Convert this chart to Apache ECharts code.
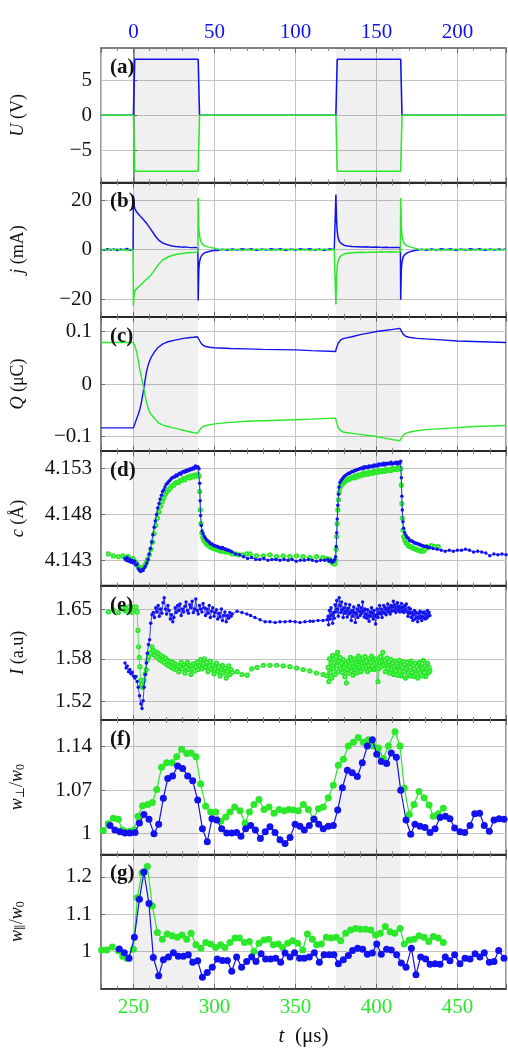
<!DOCTYPE html>
<html>
<head>
<meta charset="utf-8">
<script src="https://cdn.jsdelivr.net/npm/echarts@6/dist/echarts.min.js"></script>
<style>
html, body { margin: 0; padding: 0; background: #fff; }
#chart { width: 508px; height: 1058px; }
</style>
</head>
<body>
<div id="chart"></div>
<script>
// pulse windows (shaded), in t (us)
const pulses = [[250, 290], [375, 415]];

// (a) applied voltage U (V)
const tU = [230, 250, 250.8, 290, 290.8, 375, 375.8, 415, 415.8, 480];
const uBlue = [0, 0, 8, 8, 0, 0, 8, 8, 0, 0];
const uGreen = [0, 0, -8, -8, 0, 0, -8, -8, 0, 0];

// (b) current j (mA)
const tJ = [230, 232, 234, 236, 238, 240, 242, 244, 246, 248, 249.8,
  250, 250.5, 251, 252, 253, 254, 255, 256, 257, 258, 259, 260, 261, 262, 263, 264, 265, 266, 267, 268, 269, 270,
  272, 274, 276, 278, 280, 282, 284, 286, 288, 289.8,
  290, 290.4, 290.8, 291.5, 292.5, 294, 296, 298, 300, 302,
  305, 308, 311, 314, 317, 320, 323, 326, 329, 332, 335, 338, 341, 344, 347, 350, 353, 356, 359, 362, 365, 368, 371, 374, 374.8,
  375, 375.4, 375.8, 376.3, 377, 378, 379, 380, 382, 385, 388, 391, 394, 397, 400, 403, 406, 409, 412, 414.8,
  415, 415.4, 415.8, 416.5, 417.5, 419, 421, 423, 425,
  428, 431, 434, 437, 440, 443, 446, 449, 452, 455, 458, 461, 464, 467, 470, 473, 476, 478, 480];
const jBlue = [0.2, -0.3, 0.4, -0.2, 0.3, -0.4, 0.2, -0.1, 0.5, -0.3, 0.1,
  21.8, 17.5, 16.5, 15.2, 14.5, 13.7, 13.0, 12.3, 11.6, 10.8, 9.8, 8.9, 8.0, 7.0, 6.0, 5.1, 4.3, 3.6, 3.0, 2.7, 2.4, 2.2,
  1.8, 1.5, 1.3, 1.2, 1.0, 1.1, 0.9, 0.8, 0.9, 0.7,
  -20.6, -8, -5, -3.2, -2.0, -1.3, -0.9, -0.6, -0.3, -0.4,
  0.2, -0.3, 0.3, -0.2, 0.4, -0.1, 0.3, -0.3, 0.2, -0.2, 0.4, -0.1, 0.3, -0.3, 0.2, -0.2, 0.3, -0.1, 0.4, -0.2, 0.2, -0.3, 0.3, -0.1, 0.1,
  22.3, 12, 7.5, 5.0, 3.5, 2.6, 2.1, 1.8, 1.5, 1.3, 1.2, 1.1, 1.2, 1.0, 1.1, 0.9, 1.0, 0.8, 0.9, 0.8,
  -20.3, -8, -5, -3, -2, -1.3, -0.8, -0.5, -0.3,
  0.2, -0.3, 0.3, -0.2, 0.4, -0.1, 0.3, -0.3, 0.2, -0.2, 0.4, -0.1, 0.3, -0.3, 0.2, -0.2, 0.3, -0.1, 0.2];
const jGreen = [-0.3, 0.2, -0.4, 0.3, -0.2, 0.4, -0.3, 0.1, -0.4, 0.2, -0.2,
  -22.6, -18, -16.5, -15.8, -15.2, -14.5, -14.0, -13.3, -12.6, -12.0, -11.5, -11.0, -10.2, -9.3, -8.3, -7.4, -6.5, -5.6, -4.9, -4.3, -3.9, -3.5,
  -2.8, -2.4, -2.0, -1.8, -1.6, -1.4, -1.3, -1.2, -1.1, -1.0,
  21.0, 9, 5.5, 3.5, 2.3, 1.5, 1.1, 0.8, 0.6, 0.3,
  -0.2, 0.3, -0.3, 0.2, -0.4, 0.1, -0.3, 0.3, -0.2, 0.2, -0.4, 0.1, -0.3, 0.3, -0.2, 0.2, -0.3, 0.1, -0.4, 0.2, -0.2, 0.3, -0.3, 0.1, -0.1,
  -22.2, -11, -7, -4.8, -3.5, -2.6, -2.1, -1.8, -1.5, -1.3, -1.2, -1.1, -1.2, -1.0, -1.1, -0.9, -1.0, -0.9, -1.0, -0.9,
  20.9, 9, 5.5, 3.3, 2.2, 1.5, 1.0, 0.7, 0.4,
  -0.2, 0.3, -0.3, 0.2, -0.4, 0.1, -0.3, 0.3, -0.2, 0.2, -0.4, 0.1, -0.3, 0.3, -0.2, 0.2, -0.3, 0.1, -0.2];

// (c) charge Q (uC)
const tQBlue = [230, 250, 251, 252, 253, 254, 255, 256, 257, 258, 259, 260, 261, 262, 263, 264, 265, 266,
  268, 270, 272, 275, 278, 281, 284, 287, 289.5, 290.5, 291.5, 292.5, 294, 297, 300,
  310, 320, 330, 340, 350, 360, 374.8, 375.5, 376.5, 378, 380, 385, 390, 395, 400, 405, 410, 414.5,
  415.5, 416.5, 418, 420, 425, 430, 440, 450, 460, 470, 480];
const qBlue = [-0.0835, -0.0835, -0.075, -0.066, -0.058, -0.048, -0.034, -0.016, 0.003, 0.022, 0.035, 0.044, 0.051, 0.056, 0.061, 0.065, 0.069, 0.072,
  0.076, 0.079, 0.081, 0.083, 0.085, 0.087, 0.088, 0.089, 0.090, 0.088, 0.079, 0.075, 0.072, 0.070, 0.069,
  0.0675, 0.067, 0.066, 0.0655, 0.065, 0.0635, 0.062, 0.070, 0.078, 0.084, 0.087, 0.090, 0.094, 0.097, 0.100, 0.102, 0.104, 0.106,
  0.104, 0.095, 0.091, 0.089, 0.087, 0.086, 0.084, 0.082, 0.081, 0.080, 0.079];
const tQGreen = [230, 250, 251, 252, 253, 254, 255, 256, 257, 258, 259, 260, 261, 262,
  264, 266, 268, 270, 274, 278, 282, 286, 289.5, 290.5, 291.5, 293, 295, 300,
  310, 320, 330, 340, 350, 360, 374.8, 375.5, 376.5, 378, 380, 385, 390, 395, 400, 405, 410, 414.5,
  415.5, 416.5, 418, 420, 425, 430, 440, 450, 460, 470, 480];
const qGreen = [0.079, 0.079, 0.072, 0.061, 0.045, 0.027, 0.012, -0.002, -0.018, -0.034, -0.045, -0.053, -0.058, -0.062,
  -0.069, -0.075, -0.078, -0.080, -0.083, -0.086, -0.089, -0.092, -0.094, -0.092, -0.085, -0.081, -0.079, -0.076,
  -0.073, -0.071, -0.070, -0.069, -0.068, -0.067, -0.065, -0.074, -0.084, -0.089, -0.092, -0.094, -0.096, -0.098, -0.100, -0.103, -0.106, -0.108,
  -0.106, -0.098, -0.094, -0.092, -0.089, -0.087, -0.085, -0.083, -0.081, -0.080, -0.079];

// (d) lattice parameter c (Å), [t, c]
const cBlue = [[244.8,4.1432],[245.5,4.1430],[246.2,4.1433],[247,4.1429],[247.8,4.1431],[248.5,4.1428],[249.3,4.1430],[250,4.1427],
  [250.8,4.1429],[251.5,4.1425],[252.3,4.1426],[253,4.1421],[253.8,4.1419],[254.5,4.1418],[255.3,4.1420],[256,4.1419],[256.8,4.1422],
  [257.5,4.1424],[258.3,4.1427],[259,4.1431],[259.8,4.1437],[260.5,4.1443],[261.3,4.1450],[262,4.1458],[262.8,4.1466],[263.5,4.1473],
  [264.3,4.1480],[265,4.1487],[265.8,4.1492],[266.5,4.1497],[267.3,4.1501],[268,4.1505],[268.8,4.1507],[269.5,4.1510],[270.3,4.1513],
  [271,4.1514],[271.8,4.1516],[272.5,4.1517],[273.3,4.1519],[274,4.1520],[274.8,4.1521],[275.5,4.1521],[276.3,4.1523],[277,4.1522],
  [277.8,4.1524],[278.5,4.1525],[279.3,4.1524],[280,4.1526],[280.8,4.1527],[281.5,4.1526],[282.3,4.1528],[283,4.1527],[283.8,4.1529],
  [284.5,4.1528],[285.3,4.1530],[286,4.1529],[286.8,4.1531],[287.5,4.1530],[288.3,4.1533],[289,4.1531],[289.8,4.1532],[290.5,4.1530],
  [290.9,4.1514],[291.2,4.1495],[291.5,4.1479],[291.9,4.1468],[292.4,4.1462],[293,4.1459],[293.8,4.1456],[294.5,4.1454],[295.3,4.1452],
  [296,4.1451],[296.8,4.1450],[297.5,4.1448],[298.3,4.1448],[299,4.1447],[299.8,4.1446],[300.5,4.1446],[301.3,4.1445],[302,4.1445],
  [302.8,4.1444],[303.5,4.1444],[304.3,4.1443],[305,4.1444],[305.8,4.1443],[306.5,4.1442],[307.3,4.1442],[308,4.1441],[309,4.1441],
  [310,4.1440],[311,4.1439],[313,4.1437],[315.5,4.1436],[318,4.1434],[320.5,4.1432],[323,4.1433],[325.5,4.1431],[328,4.1431],
  [330.5,4.1432],[333,4.1430],[335.5,4.1431],[338,4.1431],[340.5,4.1430],[343,4.1431],[345.5,4.1430],[348,4.1431],[350.5,4.1429],
  [353,4.1430],[355.5,4.1430],[358,4.1431],[360.5,4.1430],[363,4.1429],[365.5,4.1430],[368,4.1430],[370,4.1431],[371,4.1429],
  [372,4.1430],[372.8,4.1428],[373.5,4.1429],[374.3,4.1431],[374.8,4.1434],[375.2,4.1445],[375.5,4.1460],[375.8,4.1475],[376.2,4.1490],
  [376.6,4.1502],[377,4.1510],[377.5,4.1515],[378.2,4.1517],[379,4.1519],[379.8,4.1521],[380.5,4.1522],[381.3,4.1523],[382,4.1524],
  [382.8,4.1525],[383.5,4.1525],[384.3,4.1526],[385,4.1527],[385.8,4.1527],[386.5,4.1528],[387.3,4.1528],[388,4.1529],[388.8,4.1529],
  [389.5,4.1530],[390.3,4.1530],[391,4.1531],[391.8,4.1530],[392.5,4.1532],[393.3,4.1531],[394,4.1532],[394.8,4.1531],[395.5,4.1533],
  [396.3,4.1532],[397,4.1533],[397.8,4.1532],[398.5,4.1534],[399.3,4.1533],[400,4.1534],[400.8,4.1533],[401.5,4.1535],[402.3,4.1534],
  [403,4.1535],[403.8,4.1534],[404.5,4.1536],[405.3,4.1534],[406,4.1536],[406.8,4.1535],[407.5,4.1536],[408.3,4.1535],[409,4.1537],
  [409.8,4.1535],[410.5,4.1536],[411.3,4.1536],[412,4.1537],[412.8,4.1535],[413.5,4.1537],[414.3,4.1536],[415,4.1538],[415.4,4.1520],
  [415.7,4.1500],[416,4.1485],[416.4,4.1472],[416.8,4.1465],[417.5,4.1460],[418.3,4.1457],[419,4.1455],[419.8,4.1454],[420.5,4.1452],
  [421.3,4.1451],[422,4.1451],[422.8,4.1450],[423.5,4.1449],[424.3,4.1449],[425,4.1448],[425.8,4.1448],[426.5,4.1447],[427.3,4.1447],
  [428,4.1446],[428.8,4.1446],[429.5,4.1445],[430.3,4.1445],[431,4.1445],[432,4.1444],[433,4.1444],[435,4.1443],[437.5,4.1442],
  [440,4.1441],[442.5,4.1440],[445,4.1441],[447.5,4.1440],[450,4.1441],[452.5,4.1441],[455,4.1442],[457.5,4.1441],[460,4.1439],
  [462.5,4.1440],[465,4.1439],[467.5,4.1438],[470,4.1435],[472.5,4.1437],[475,4.1436],[477.5,4.1437],[480,4.1436]];
const cGreen = [[234.5,4.1437],[237.6,4.1435],[240.7,4.1434],[243.5,4.1435],[244.8,4.1433],[245.8,4.1432],[246.8,4.1434],[247.8,4.1431],
  [248.8,4.1430],[249.8,4.1432],[250.8,4.1429],[251.8,4.1427],[252.8,4.1424],[253.8,4.1422],[254.8,4.1421],[255.8,4.1422],[256.8,4.1424],
  [257.8,4.1427],[258.8,4.1431],[259.8,4.1436],[260.8,4.1442],[261.8,4.1450],[262.8,4.1459],[263.8,4.1468],[264.8,4.1476],[265.8,4.1483],
  [266.8,4.1489],[267.8,4.1494],[268.8,4.1498],[269.8,4.1502],[270.8,4.1505],[271.8,4.1507],[272.8,4.1509],[273.8,4.1511],[274.8,4.1512],
  [275.8,4.1514],[276.8,4.1515],[277.8,4.1515],[278.8,4.1517],[279.8,4.1517],[280.8,4.1519],[281.8,4.1518],[282.8,4.1520],[283.8,4.1521],
  [284.8,4.1520],[285.8,4.1522],[286.8,4.1521],[287.8,4.1523],[288.8,4.1522],[289.8,4.1524],[290.5,4.1522],[290.9,4.1505],[291.3,4.1485],
  [291.7,4.1470],[292.2,4.1460],[292.8,4.1455],[293.5,4.1452],[294.3,4.1450],[295,4.1448],[295.8,4.1447],[296.5,4.1446],[297.3,4.1445],
  [298,4.1444],[298.8,4.1444],[299.5,4.1443],[300.3,4.1443],[301,4.1442],[301.8,4.1442],[302.5,4.1441],[303.3,4.1441],[304,4.1440],
  [305,4.1441],[306,4.1440],[307,4.1439],[308,4.1440],[309,4.1439],[310,4.1438],[311,4.1437],[313,4.1437],[315,4.1436],[317.5,4.1436],
  [320,4.1437],[322,4.1437],[326,4.1435],[330.2,4.1435],[334.3,4.1436],[338.4,4.1434],[342.5,4.1435],[346.6,4.1434],[350.7,4.1435],
  [354.8,4.1434],[358.9,4.1433],[363,4.1434],[367,4.1433],[369.5,4.1432],[370.5,4.1430],[371.3,4.1431],[372,4.1429],[372.8,4.1427],
  [373.5,4.1428],[374.3,4.1426],[374.8,4.1430],[375.2,4.1442],[375.5,4.1456],[375.8,4.1470],[376.2,4.1485],[376.6,4.1496],[377,4.1504],
  [377.5,4.1509],[378.2,4.1512],[379,4.1513],[379.8,4.1515],[380.5,4.1516],[381.3,4.1517],[382,4.1518],[382.8,4.1518],[383.5,4.1519],
  [384.3,4.1520],[385,4.1520],[385.8,4.1521],[386.5,4.1520],[387.3,4.1522],[388,4.1521],[388.8,4.1523],[389.5,4.1522],[390.3,4.1523],
  [391,4.1524],[391.8,4.1523],[392.5,4.1525],[393.3,4.1524],[394,4.1525],[394.8,4.1524],[395.5,4.1526],[396.3,4.1525],[397,4.1526],
  [397.8,4.1525],[398.5,4.1527],[399.3,4.1526],[400,4.1527],[401,4.1526],[402,4.1528],[403,4.1527],[404,4.1528],[405,4.1527],
  [406,4.1529],[407,4.1528],[408,4.1529],[409,4.1528],[410,4.1530],[411,4.1529],[412,4.1530],[413,4.1529],[414,4.1531],[415,4.1530],
  [415.4,4.1512],[415.7,4.1492],[416,4.1476],[416.4,4.1463],[416.8,4.1456],[417.5,4.1452],[418.3,4.1449],[419,4.1448],[419.8,4.1446],
  [420.5,4.1445],[421.3,4.1445],[422,4.1444],[422.8,4.1443],[423.5,4.1443],[424.3,4.1442],[425,4.1442],[425.8,4.1441],[426.5,4.1441],
  [427.3,4.1440],[428,4.1441],[429,4.1440],[430,4.1442],[431,4.1445],[432,4.1444],[434,4.1446],[436,4.1445],[438.2,4.1445]];

// (e) intensity I (a.u), [t, I]
const iBlue = [[244.8,1.574],[245.5,1.567],[246.2,1.570],[247,1.562],[247.8,1.565],[248.5,1.559],[249.3,1.561],[250,1.556],[250.8,1.553],
  [251.6,1.555],[252.3,1.548],[253,1.540],[253.8,1.528],[254.6,1.517],[255.3,1.510],[256,1.521],[256.6,1.540],[257.3,1.558],[258,1.574],
  [258.6,1.588],[259.3,1.600],[260,1.607],[260.7,1.630],[261.5,1.642],[262.3,1.645],[263,1.638],[263.8,1.652],[264.5,1.646],[265.3,1.655],
  [266,1.640],[266.8,1.650],[267.5,1.644],[268.3,1.659],[269,1.666],[269.8,1.650],[270.5,1.643],[271.3,1.655],[272,1.648],[272.8,1.636],
  [273.5,1.642],[274.3,1.632],[275,1.638],[275.8,1.652],[276.5,1.645],[277.3,1.655],[278,1.648],[278.8,1.657],[279.5,1.641],[280.3,1.650],
  [281,1.646],[281.8,1.654],[282.5,1.660],[283.3,1.648],[284,1.644],[284.8,1.656],[285.5,1.652],[286.3,1.661],[287,1.645],[287.8,1.650],
  [288.5,1.664],[289.3,1.648],[290,1.643],[290.8,1.655],[291.5,1.650],[292.3,1.646],[293,1.658],[293.8,1.652],[294.5,1.641],[295.3,1.650],
  [296,1.644],[296.8,1.655],[297.5,1.638],[298.3,1.647],[299,1.652],[299.8,1.640],[300.5,1.645],[301.3,1.649],[302,1.636],[302.8,1.644],
  [303.5,1.639],[304.3,1.650],[305,1.634],[305.8,1.641],[306.5,1.646],[307.3,1.632],[308,1.641],[308.8,1.637],[309.5,1.645],[310.3,1.640],
  [311,1.643],[314,1.647],[317,1.645],[320,1.643],[322.3,1.641],[325,1.638],[328.2,1.635],[331.3,1.632],[334.3,1.632],[337.5,1.631],
  [340.5,1.632],[343.6,1.632],[346.7,1.633],[349.8,1.632],[352.8,1.631],[355.9,1.632],[359,1.633],[361,1.633],[364,1.634],[367,1.634],
  [369.5,1.635],[370.2,1.640],[370.5,1.628],[371,1.648],[371.5,1.636],[372,1.652],[372.5,1.641],[373,1.630],[373.5,1.645],[374,1.637],
  [374.5,1.656],[375,1.646],[375.5,1.662],[376,1.650],[376.5,1.640],[377,1.666],[377.5,1.655],[378,1.645],[378.5,1.660],[379,1.649],
  [379.5,1.638],[380,1.652],[380.5,1.644],[381,1.657],[381.5,1.647],[382,1.639],[382.5,1.651],[383,1.643],[383.5,1.656],[384,1.645],
  [384.5,1.634],[385,1.648],[385.5,1.640],[386,1.653],[386.5,1.645],[387,1.631],[387.5,1.643],[388,1.650],[388.5,1.638],[389,1.655],
  [389.5,1.647],[390,1.641],[390.5,1.652],[391,1.644],[391.5,1.660],[392,1.648],[392.5,1.639],[393,1.650],[393.5,1.643],[394,1.637],
  [394.5,1.649],[395,1.641],[395.5,1.633],[396,1.646],[396.5,1.640],[397,1.652],[397.5,1.644],[398,1.636],[398.5,1.648],[399,1.640],
  [399.5,1.629],[400,1.642],[400.5,1.650],[401,1.638],[401.5,1.645],[402,1.655],[402.5,1.643],[403,1.650],[403.5,1.638],[404,1.646],
  [404.5,1.655],[405,1.644],[405.5,1.652],[406,1.642],[406.5,1.649],[407,1.657],[407.5,1.646],[408,1.652],[408.5,1.643],[409,1.655],
  [409.5,1.647],[410,1.653],[410.5,1.661],[411,1.648],[411.5,1.656],[412,1.645],[412.5,1.652],[413,1.659],[413.5,1.648],[414,1.654],
  [414.5,1.646],[415,1.651],[415.5,1.658],[416,1.647],[416.5,1.653],[417,1.645],[417.5,1.655],[418,1.649],[418.5,1.657],[419,1.646],
  [419.5,1.640],[420,1.652],[420.5,1.644],[421,1.650],[421.5,1.638],[422,1.645],[422.5,1.634],[423,1.642],[423.5,1.648],[424,1.636],
  [424.5,1.645],[425,1.639],[425.5,1.632],[426,1.644],[426.5,1.637],[427,1.647],[427.5,1.640],[428,1.634],[428.5,1.645],[429,1.638],
  [429.5,1.646],[430,1.636],[430.5,1.643],[431,1.637],[431.5,1.648],[432,1.640],[432.5,1.645],[433,1.641]];
const iGreen = [[234.5,1.646],[237.6,1.649],[240.7,1.645],[243,1.652],[244.8,1.648],[245.5,1.651],[246.2,1.646],[247,1.653],[247.8,1.647],
  [248.5,1.650],[249.3,1.645],[250,1.652],[250.8,1.648],[251.6,1.653],[252.3,1.646],[252.8,1.620],[253.2,1.597],[253.6,1.582],[254,1.569],
  [254.5,1.550],[255,1.544],[255.5,1.540],[256,1.548],[256.6,1.550],[257.3,1.559],[258,1.565],[258.6,1.578],[259.3,1.583],[260,1.588],
  [260.7,1.588],[261.5,1.597],[262.3,1.592],[263,1.585],[263.8,1.590],[264.5,1.582],[265.3,1.588],[266,1.579],[266.8,1.585],[267.5,1.577],
  [268.3,1.583],[269,1.575],[269.8,1.581],[270.5,1.572],[271.3,1.578],[272,1.570],[272.8,1.576],[273.5,1.568],[274.3,1.575],[275,1.566],
  [275.8,1.573],[276.5,1.565],[277.3,1.571],[278,1.562],[278.8,1.569],[279.5,1.575],[280.3,1.566],[281,1.572],[281.8,1.560],[282.5,1.568],
  [283.3,1.575],[284,1.565],[284.8,1.571],[285.5,1.558],[286.3,1.566],[287,1.573],[287.8,1.563],[288.5,1.569],[289.3,1.575],[290,1.565],
  [290.8,1.571],[291.5,1.579],[292.3,1.566],[293,1.573],[293.8,1.580],[294.5,1.568],[295.3,1.575],[296,1.562],[296.8,1.570],[297.5,1.577],
  [298.3,1.565],[299,1.571],[299.8,1.559],[300.5,1.567],[301.3,1.574],[302,1.562],[302.8,1.569],[303.5,1.556],[304.3,1.565],[305,1.571],
  [305.8,1.560],[306.5,1.567],[307.3,1.553],[308,1.563],[308.8,1.570],[309.5,1.558],[310.3,1.565],[311,1.561],[314,1.562],[317,1.558],
  [320.2,1.557],[323,1.566],[326.3,1.568],[330.2,1.571],[334.3,1.571],[338.4,1.571],[342.5,1.570],[346.6,1.569],[350.7,1.567],[354.8,1.565],
  [358.9,1.563],[363,1.560],[367.1,1.558],[369.5,1.556],[370.2,1.568],[370.6,1.548],[371,1.580],[371.5,1.560],[372,1.574],[372.5,1.553],
  [373,1.585],[373.5,1.566],[374,1.575],[374.5,1.558],[375,1.583],[375.5,1.570],[376,1.589],[376.5,1.562],[377,1.576],[377.5,1.582],
  [378,1.566],[378.5,1.574],[379,1.561],[379.5,1.579],[380,1.568],[380.5,1.555],[381,1.573],[381.5,1.546],[382,1.565],[382.5,1.577],
  [383,1.560],[383.5,1.570],[384,1.582],[384.5,1.563],[385,1.574],[385.5,1.557],[386,1.569],[386.5,1.580],[387,1.565],[387.5,1.575],
  [388,1.560],[388.5,1.572],[389,1.584],[389.5,1.568],[390,1.576],[390.5,1.562],[391,1.574],[391.5,1.581],[392,1.566],[392.5,1.575],
  [393,1.583],[393.5,1.569],[394,1.577],[394.5,1.562],[395,1.571],[395.5,1.580],[396,1.565],[396.5,1.575],[397,1.584],[397.5,1.570],
  [398,1.578],[398.5,1.565],[399,1.573],[399.5,1.580],[400,1.567],[400.5,1.576],[401,1.548],[401.5,1.566],[402,1.574],[402.5,1.583],
  [403,1.569],[403.5,1.577],[404,1.589],[404.5,1.571],[405,1.578],[405.5,1.562],[406,1.574],[406.5,1.581],[407,1.567],[407.5,1.576],
  [408,1.560],[408.5,1.572],[409,1.579],[409.5,1.565],[410,1.574],[410.5,1.558],[411,1.570],[411.5,1.577],[412,1.563],[412.5,1.573],
  [413,1.557],[413.5,1.569],[414,1.578],[414.5,1.563],[415,1.571],[415.5,1.556],[416,1.568],[416.5,1.576],[417,1.562],[417.5,1.572],
  [418,1.553],[418.5,1.566],[419,1.575],[419.5,1.560],[420,1.570],[420.5,1.556],[421,1.568],[421.5,1.577],[422,1.561],[422.5,1.571],
  [423,1.555],[423.5,1.566],[424,1.574],[424.5,1.559],[425,1.569],[425.5,1.553],[426,1.565],[426.5,1.575],[427,1.560],[427.5,1.569],
  [428,1.556],[428.5,1.567],[429,1.578],[429.5,1.561],[430,1.570],[430.5,1.555],[431,1.566],[431.5,1.574],[432,1.560],[432.5,1.568],
  [433,1.563]];

// (f) w_perp / w0, [t, w]
const wpBlue = [[235.6,1.013],[238.6,1.006],[241.7,1.003],[244.8,1.001],[247.9,1.001],[251.0,1.002],[253.7,1.017],[256.5,1.031],
  [259.6,1.023],[262.7,1.000],[265.6,1.015],[268.5,1.057],[271.2,1.089],[274.2,1.093],[277.3,1.109],[280.4,1.105],[283.5,1.093],
  [286.6,1.085],[289.7,1.054],[292.6,1.008],[295.6,0.987],[298.5,1.024],[301.4,1.022],[304.5,1.008],[307.6,1.001],[310.7,1.001],
  [313.7,1.002],[316.4,0.996],[319.3,1.008],[322.4,1.013],[325.3,1.006],[328.4,0.992],[331.4,1.003],[334.3,1.011],[337.4,1.002],
  [340.5,0.990],[343.6,0.984],[346.7,0.994],[349.8,1.015],[352.8,1.012],[355.5,1.006],[358.6,1.013],[361.5,1.023],[364.4,1.015],
  [367.2,1.008],[370.3,1.012],[373.4,1.013],[376.1,1.038],[379.0,1.074],[382.1,1.102],[385.1,1.098],[388.2,1.092],[391.3,1.114],
  [394.4,1.141],[397.5,1.151],[400.2,1.128],[403.0,1.116],[406.3,1.113],[409.2,1.130],[412.3,1.123],[415.0,1.070],[418.3,1.022],
  [421.2,0.999],[423.8,1.015],[426.9,1.012],[430.0,1.010],[433.1,1.002],[436.2,1.008],[439.3,1.026],[442.6,1.028],[445.4,1.024],
  [448.3,1.009],[451.6,1.003],[454.5,1.002],[457.8,1.013],[460.7,1.032],[463.7,1.033],[466.6,1.013],[469.7,1.004],[472.6,1.022],
  [475.7,1.024],[478.8,1.023]];
const wpGreen = [[231.4,1.005],[234.5,1.016],[237.6,1.025],[240.7,1.023],[243.2,1.006],[245.4,1.003],[247.9,1.004],[250.4,1.006],
  [252.8,1.028],[255.7,1.045],[258.8,1.047],[261.7,1.050],[264.4,1.071],[267.4,1.107],[270.5,1.114],[273.8,1.114],[276.7,1.124],
  [279.8,1.136],[282.9,1.129],[285.6,1.130],[288.6,1.124],[291.5,1.080],[294.6,1.044],[297.7,1.035],[300.8,1.035],[303.9,1.020],
  [307.0,1.027],[309.6,1.035],[312.5,1.043],[315.8,1.037],[318.9,1.017],[321.6,1.035],[324.4,1.047],[327.5,1.055],[330.6,1.039],
  [333.7,1.043],[336.8,1.033],[339.9,1.039],[343.0,1.037],[345.8,1.039],[348.7,1.038],[351.8,1.037],[354.9,1.047],[358.0,1.039],
  [361.1,1.024],[364.2,1.040],[367.2,1.043],[370.3,1.058],[373.4,1.078],[376.5,1.110],[379.6,1.120],[382.7,1.141],[385.8,1.147],
  [388.8,1.155],[391.9,1.147],[395.0,1.151],[398.1,1.141],[401.2,1.138],[404.3,1.121],[407.4,1.141],[411.5,1.164],[414.6,1.141],
  [417.2,1.073],[420.3,1.031],[423.2,1.047],[426.3,1.068],[429.4,1.058],[432.5,1.046],[435.1,1.028],[438.2,1.032],[441.3,1.041]];

// (g) w_par / w0, [t, w]
const wlBlue = [[241.3,1.007],[244.4,0.997],[247.3,0.982],[250.6,1.038],[253.7,1.140],[256.5,1.213],[259.6,1.129],[262.3,0.984],
  [265.6,0.935],[268.5,0.978],[271.6,0.985],[274.7,0.997],[277.7,0.987],[280.8,0.987],[283.9,0.991],[286.6,0.971],[289.7,0.975],
  [292.6,0.931],[295.6,0.944],[298.7,0.958],[301.8,0.980],[304.9,0.976],[308.0,0.976],[310.7,0.947],[313.7,0.985],[316.8,0.958],
  [319.9,0.973],[323.0,0.985],[325.7,0.973],[328.8,0.994],[331.6,0.980],[334.7,0.980],[337.8,0.982],[340.9,0.971],[343.6,0.996],
  [346.7,0.985],[349.5,0.997],[352.6,0.982],[355.5,0.982],[358.6,0.985],[361.7,0.997],[364.8,0.971],[367.7,0.991],[370.9,0.991],
  [373.8,0.991],[376.5,0.967],[379.6,0.978],[382.7,0.989],[385.3,1.003],[388.4,1.009],[391.5,1.006],[394.4,0.993],[397.5,0.996],
  [400.2,1.020],[403.0,0.993],[406.3,1.006],[409.2,1.004],[412.5,0.991],[415.4,0.969],[418.3,0.958],[421.6,1.009],[424.4,0.938],
  [427.3,0.985],[430.4,0.980],[433.1,0.966],[436.2,0.967],[439.3,0.966],[442.5,0.985],[445.4,0.975],[448.3,0.991],[451.6,0.967],
  [454.7,0.982],[457.8,0.980],[460.9,0.994],[463.9,0.985],[466.6,0.997],[469.7,0.971],[472.6,0.973],[475.5,1.003],[478.8,0.982]];
const wlGreen = [[230.4,1.004],[233.5,1.004],[237.0,1.012],[240.7,1.002],[243.4,0.987],[245.8,0.982],[250.0,1.006],[252.4,1.144],
  [255.3,1.211],[258.6,1.228],[261.7,1.122],[264.8,1.051],[267.9,1.033],[270.9,1.047],[274.0,1.042],[277.1,1.038],[280.0,1.044],
  [282.9,1.033],[285.6,1.049],[288.6,1.018],[291.7,1.009],[294.6,1.024],[297.7,1.020],[300.8,1.011],[303.9,1.018],[306.5,1.011],
  [309.6,1.024],[312.7,1.036],[315.4,1.036],[318.5,1.024],[321.6,1.027],[324.4,1.000],[327.5,1.022],[330.6,1.031],[333.5,1.033],
  [336.4,1.018],[339.5,1.020],[342.1,1.011],[345.2,1.022],[348.3,1.029],[351.4,1.022],[354.5,1.004],[357.4,1.047],[360.5,1.033],
  [363.1,1.018],[366.0,1.020],[369.1,1.038],[372.0,1.036],[375.1,1.038],[377.9,1.029],[381.0,1.049],[384.1,1.058],[387.2,1.062],
  [390.3,1.060],[393.4,1.060],[396.5,1.058],[399.5,1.044],[402.4,1.049],[405.5,1.067],[408.4,1.053],[411.3,1.049],[414.6,1.062],
  [417.2,1.020],[420.3,1.031],[423.2,1.033],[426.3,1.042],[429.4,1.038],[432.3,1.027],[435.1,1.040],[438.2,1.036],[441.3,1.024]];

// y tick values per panel
const ticksU = [-5, 0, 5];
const ticksJ = [-20, 0, 20];
const ticksQ = [-0.1, 0, 0.1];
const ticksC = [4.143, 4.148, 4.153];
const ticksI = [1.52, 1.58, 1.65];
const ticksWp = [1, 1.07, 1.14];
const ticksWl = [1, 1.1, 1.2];

const BLUE = "#1212ee";
const GREEN = "#2be82b";
const SERIF = "'Liberation Serif', 'DejaVu Serif', serif";
const zip = (t, v) => t.map((x, k) => [x, v[k]]);

function plain(data, color, w) {
  return { type: "line", data: data, symbol: "none", lineStyle: { color: color, width: w }, itemStyle: { color: color } };
}
function dots(data, color, size, w, hollow) {
  return {
    type: "line", data: data, symbol: hollow ? "emptyCircle" : "circle", symbolSize: size,
    lineStyle: { color: color, width: w },
    itemStyle: { color: color, borderColor: color, borderWidth: hollow ? 0.8 : 0 }
  };
}

const nameRich = {
  i: { fontFamily: SERIF, fontStyle: "italic", fontSize: 18, color: "#111" },
  s: { fontFamily: SERIF, fontSize: 12, color: "#111", verticalAlign: "bottom", padding: [8, 0, 0, 0] }
};

const panels = [
  { label: "(a)", name: "{i|U} (V)", min: -9.6, max: 9.6, ticks: ticksU,
    series: [plain(zip(tU, uBlue), BLUE, 1.6), plain(zip(tU, uGreen), GREEN, 1.6)] },
  { label: "(b)", name: "{i|j} (mA)", min: -27.2, max: 27.2, ticks: ticksJ,
    series: [plain(zip(tJ, jBlue), BLUE, 1.5), plain(zip(tJ, jGreen), GREEN, 1.5)] },
  { label: "(c)", name: "{i|Q} (μC)", min: -0.128, max: 0.128, ticks: ticksQ,
    series: [plain(zip(tQBlue, qBlue), BLUE, 1.4), plain(zip(tQGreen, qGreen), GREEN, 1.4)] },
  { label: "(d)", name: "{i|c} (Å)", min: 4.14025, max: 4.1549, ticks: ticksC,
    series: [dots(cGreen, GREEN, 3.2, 0.8, true), dots(cBlue, BLUE, 3.5, 0.8, false)] },
  { label: "(e)", name: "{i|I} (a.u)", min: 1.494, max: 1.683, ticks: ticksI,
    series: [dots(iGreen, GREEN, 3.2, 0.8, true), dots(iBlue, BLUE, 3.5, 0.8, false)] },
  { label: "(f)", name: "{i|w}{s|⊥}/{i|w}{s|0}", min: 0.9666, max: 1.183, ticks: ticksWp,
    series: [dots(wpGreen, GREEN, 7, 1.2, false), dots(wpBlue, BLUE, 7, 1.2, false)] },
  { label: "(g)", name: "{i|w}{s|∥}/{i|w}{s|0}", min: 0.9, max: 1.2605, ticks: ticksWl,
    series: [dots(wlGreen, GREEN, 7, 1.2, false), dots(wlBlue, BLUE, 7, 1.2, false)] }
];

const grids = [], xAxes = [], yAxes = [], series = [], titles = [];
const H = 134.4;
panels.forEach((p, i) => {
  const top = 48 + i * H;
  const last = i === panels.length - 1;
  grids.push({ left: 101, width: 405, top: top, height: H, show: true, borderColor: "#7a7a7a", borderWidth: 1.5,
    backgroundColor: "transparent", containLabel: false, outerBoundsMode: "none" });
  // bottom axis (data axis, t in us)
  xAxes.push({
    gridIndex: i, type: "value", position: "bottom", min: 230, max: 480, minInterval: 50, maxInterval: 50,
    axisLine: { show: true, onZero: false, lineStyle: { color: "#222", width: 1.6 } },
    axisTick: { show: true, inside: true, length: 5, lineStyle: { color: "#666" } },
    minorTick: { show: true, splitNumber: 5, length: 3, lineStyle: { color: "#888" } },
    axisLabel: { show: last, color: GREEN, fontSize: 21, fontFamily: SERIF, margin: 8, showMinLabel: false, showMaxLabel: false },
    splitLine: { show: true, lineStyle: { color: "#c4c4c4", width: 1 } },
    name: last ? "{i|t}  (μs)" : "", nameLocation: "middle", nameGap: 37,
    nameTextStyle: { fontFamily: SERIF, fontSize: 21, color: "#111",
      rich: { i: { fontFamily: SERIF, fontStyle: "italic", fontSize: 21, color: "#111" } } }
  });
  // top axis (ticks; blue time labels on the first panel)
  xAxes.push({
    gridIndex: i, type: "value", position: "top", min: i === 0 ? -20 : 230, max: i === 0 ? 230 : 480,
    minInterval: 50, maxInterval: 50,
    axisLine: { show: true, onZero: false, lineStyle: { color: i === 0 ? "#7a7a7a" : "#222", width: 1.6 } },
    axisTick: { show: true, inside: true, length: 5, lineStyle: { color: "#666" } },
    minorTick: { show: true, splitNumber: 5, length: 3, lineStyle: { color: "#888" } },
    axisLabel: { show: i === 0, color: BLUE, fontSize: 21, fontFamily: SERIF, margin: 5, showMinLabel: false, showMaxLabel: false },
    splitLine: { show: false }
  });
  yAxes.push({
    gridIndex: i, type: "value", min: p.min, max: p.max,
    axisLine: { show: true, lineStyle: { color: "#7a7a7a", width: 1.5 } },
    axisTick: { show: true, inside: true, length: 4, customValues: p.ticks, lineStyle: { color: "#666" } },
    axisLabel: { customValues: p.ticks, fontSize: 21, fontFamily: SERIF, color: "#111", margin: 9,
      formatter: v => String(Math.round(v * 10000) / 10000).replace("-", "\u2212") },
    splitLine: { show: true, lineStyle: { color: "#c4c4c4", width: 1 } },
    name: p.name, nameLocation: "middle", nameGap: 74,
    nameTextStyle: { fontFamily: SERIF, fontSize: 18, color: "#111", rich: nameRich }
  });
  p.series.forEach((s, k) => {
    s.xAxisIndex = 2 * i;
    s.yAxisIndex = i;
    s.animation = false;
    s.silent = true;
    s.z = 3 + k;
    if (k === 0) {
      s.markArea = { silent: true, itemStyle: { color: "rgba(0,0,0,0.06)" },
        data: pulses.map(w => [{ xAxis: w[0] }, { xAxis: w[1] }]) };
    }
    series.push(s);
  });
  titles.push({ text: p.label, left: 105, top: top + 4,
    textStyle: { fontFamily: SERIF, fontWeight: "bold", fontSize: 21, color: "#111" } });
});

const chart = echarts.init(document.getElementById("chart"), null, { renderer: "canvas" });
chart.setOption({
  animation: false,
  backgroundColor: "#fff",
  title: titles,
  grid: grids,
  xAxis: xAxes,
  yAxis: yAxes,
  series: series
});
</script>
</body>
</html>
